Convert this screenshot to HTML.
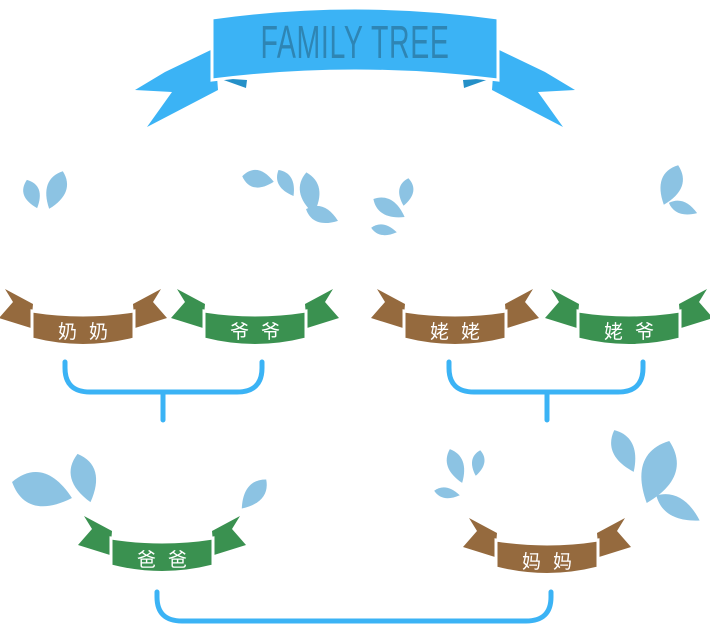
<!DOCTYPE html>
<html><head><meta charset="utf-8"><style>
html,body{margin:0;padding:0;background:#fff;width:710px;height:626px;overflow:hidden}
svg{display:block}
.lbl{font-family:"Liberation Sans","Noto Sans CJK SC",sans-serif;font-size:19px;fill:#fff;text-anchor:middle;letter-spacing:12px}
</style></head><body>
<svg id="tree" width="710" height="626" viewBox="0 0 710 626">
<defs>
<g id="rib">
  <path d="M-50,-6 L-78,-21 L-70,-8 L-84,8 L-52,18 Z"/>
  <path d="M50,-6 L78,-21 L70,-8 L84,8 L52,18 Z"/>
  <path d="M-51,1 Q0,9 51,1 L51,29 Q0,42 -51,29 Z" stroke="#fff" stroke-width="3"/>
</g>
</defs>
<g>
  <path d="M215,48 L165,72 L135,90 L172,92 L147,127 L218,90 Z" fill="#3bb3f5"/>
  <path d="M495,48 L545,72 L575,90 L538,92 L563,127 L492,90 Z" fill="#3bb3f5"/>
  <path d="M218,78 L247,80 L246,88 Z M492,78 L463,80 L464,88 Z" fill="#2590c8"/>
  <path d="M212,18 Q355,-2 498,18 L498,80 Q355,62 212,80 Z" fill="#3bb3f5" stroke="#fff" stroke-width="3"/>
  <text x="355" y="58" text-anchor="middle" font-family="Liberation Sans Narrow, Liberation Sans, sans-serif" font-size="46" fill="#2e85b4" letter-spacing="1" transform="translate(355,0) scale(0.62,1) translate(-355,0)">FAMILY TREE</text>
</g>
<g id="leaves" fill="#8cc3e3"></g>
<g fill="none" stroke="#3bb3f5" stroke-width="5" stroke-linecap="round">
  <path d="M65,362 L65,368 Q65,392 90,392 L237,392 Q262,392 262,368 L262,362 M163,392 L163,420"/>
  <path d="M449,362 L449,368 Q449,392 474,392 L618,392 Q643,392 643,368 L643,362 M547,392 L547,420"/>
  <path d="M157,592 L157,597 Q157,621 182,621 L526,621 Q551,621 551,597 L551,592"/>
</g>
<g transform="translate(83,310)"><use href="#rib" fill="#956a3e"/><text class="lbl" x="6" y="28">奶奶</text></g>
<g transform="translate(255,310)"><use href="#rib" fill="#3a9150"/><text class="lbl" x="6" y="28">爷爷</text></g>
<g transform="translate(455,310)"><use href="#rib" fill="#956a3e"/><text class="lbl" x="6" y="28">姥姥</text></g>
<g transform="translate(629,310)"><use href="#rib" fill="#3a9150"/><text class="lbl" x="6" y="28">姥爷</text></g>
<g transform="translate(162,537)"><use href="#rib" fill="#3a9150"/><text class="lbl" x="6" y="29">爸爸</text></g>
<g transform="translate(547,539)"><use href="#rib" fill="#956a3e"/><text class="lbl" x="6" y="29">妈妈</text></g>
</svg>
<script>
// leaf: cx, cy, half-length, half-width, angle
const leafCx=[32,56,258,286,310,322,389,406,384,671,683,42,84,254,456,478,447,624,658,678];
const leafCy=[194,190,179,183,193,215,208,192,230,185,208,490,478,494,466,463,493,451,472,508];
const leafL=[15,20,16,15,21,17,18,14,13,21,15,31,25,19,18,13,13,23,33,25];
const leafW=[9,11,10,8,11,9,9,8,6,12,7,19,14,10,9,7,6,12,19,11];
const leafA=[-20,20,-80,-30,-10,-70,-60,10,-80,20,-70,-75,-15,40,-20,10,-80,-25,20,-60];
const g=document.getElementById('leaves');
for(let i=0;i<leafCx.length;i++){
  const p=document.createElementNS('http://www.w3.org/2000/svg','path');
  const L=leafL[i],W=leafW[i]*1.3;
  p.setAttribute('d',`M0,${-L} C${W*0.9},${-L*0.5} ${W*0.9},${L*0.2} 0,${L} C${-W*0.9},${L*0.2} ${-W*0.9},${-L*0.5} 0,${-L} Z`);
  p.setAttribute('transform',`translate(${leafCx[i]},${leafCy[i]}) rotate(${leafA[i]})`);
  
  
  g.appendChild(p);
}
</script>
</body></html>
